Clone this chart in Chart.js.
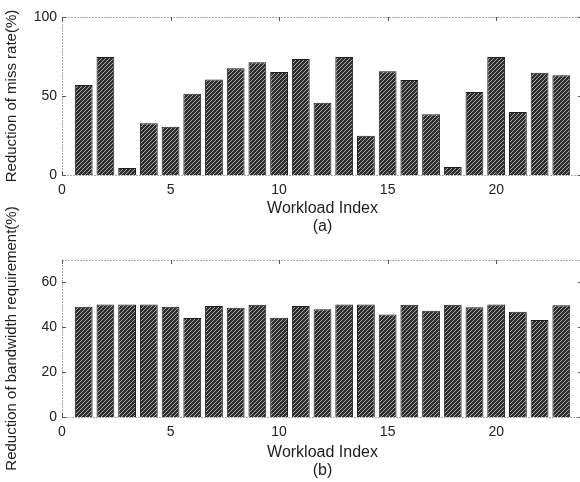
<!DOCTYPE html>
<html>
<head>
<meta charset="utf-8">
<script src="https://cdn.jsdelivr.net/npm/chart.js@4/dist/chart.umd.min.js"></script>
<style>
  html, body { margin: 0; padding: 0; background: #fff; overflow: hidden; }
  #wrap { position: relative; width: 580px; height: 482px; overflow: hidden; }
  canvas { position: absolute; left: 0; }
  #chart-a { top: 0; }
  #chart-b { top: 190px; }
</style>
</head>
<body>
<div id="wrap">
  <canvas id="chart-a" width="590" height="240"></canvas>
  <canvas id="chart-b" width="590" height="292"></canvas>
</div>
<script>
const workload = [1, 2, 3, 4, 5, 6, 7, 8, 9, 10, 11, 12, 13, 14, 15, 16, 17, 18, 19, 20, 21, 22, 23];

// (a) reduction of miss rate, %
const miss_rate = [57, 74.7, 4.4, 32.7, 30.6, 51.5, 60.5, 67.5, 71.3, 65.2, 73.4, 45.8,
  74.7, 24.9, 65.6, 60.1, 38.4, 5, 52.5, 74.7, 39.9, 64.7, 63.1];

// (b) reduction of bandwidth requirement, %
const bandwidth = [49.2, 50.2, 50.2, 50.2, 49.2, 44.1, 49.5, 48.7, 50.1, 44.2, 49.5, 48,
  50.2, 50.2, 45.7, 50.1, 47.4, 50, 48.9, 50.2, 46.9, 43.2, 49.8];

const x_ticks_step = 5;
const text_color = '#222';

Chart.defaults.font.family = "'Liberation Sans', Arial, sans-serif";
Chart.defaults.color = text_color;

// diagonal hatch fill like the printed figure
function hatch(ctx) {
  const c = document.createElement('canvas');
  c.width = 4; c.height = 4;
  const g = c.getContext('2d');
  g.fillStyle = '#2e2e2e';
  g.fillRect(0, 0, 4, 4);
  g.strokeStyle = '#a8a8a8';
  g.lineWidth = 1;
  g.beginPath();
  g.moveTo(0, 4); g.lineTo(4, 0);
  g.moveTo(-1, 1); g.lineTo(1, -1);
  g.moveTo(3, 5); g.lineTo(5, 3);
  g.stroke();
  return ctx.createPattern(c, 'repeat');
}

// dotted box + small inward ticks (matlab style)
const box_plugin = {
  id: 'box',
  afterDatasetsDraw(chart) {
    const { ctx, chartArea: a, scales: { x, y } } = chart;
    ctx.save();
    ctx.strokeStyle = '#555';
    ctx.lineWidth = 1;
    ctx.setLineDash([1, 2]);
    ctx.strokeRect(Math.round(a.left) + .5, Math.round(a.top) + .5, Math.round(a.right - a.left), Math.round(a.bottom - a.top));
    ctx.setLineDash([]);
    ctx.beginPath();
    x.ticks.forEach(t => {
      const px = Math.round(x.getPixelForValue(t.value)) + .5;
      ctx.moveTo(px, a.bottom); ctx.lineTo(px, a.bottom - 4);
      ctx.moveTo(px, a.top); ctx.lineTo(px, a.top + 4);
    });
    y.ticks.forEach(t => {
      const py = Math.round(y.getPixelForValue(t.value)) + .5;
      ctx.moveTo(a.left, py); ctx.lineTo(a.left + 4, py);
      ctx.moveTo(a.right, py); ctx.lineTo(a.right - 5, py);
    });
    ctx.stroke();
    ctx.restore();
  }
};

function make_chart(id, values, y_max, y_step, y_title, x_title, pad_top, title_pad) {
  const canvas = document.getElementById(id);
  const ctx = canvas.getContext('2d');
  return new Chart(ctx, {
    type: 'bar',
    data: {
      datasets: [{
        data: workload.map((w, i) => ({ x: w, y: values[i] })),
        backgroundColor: hatch(ctx),
        borderColor: '#1e1e1e',
        borderWidth: 1,
        barPercentage: 0.82,
        categoryPercentage: 1
      }]
    },
    options: {
      responsive: false,
      animation: false,
      devicePixelRatio: 1,
      layout: { padding: { top: pad_top, right: 7, left: 0, bottom: 0 } },
      plugins: { legend: { display: false }, tooltip: { enabled: false } },
      scales: {
        x: {
          type: 'linear',
          min: 0,
          max: 24,
          offset: false,
          grid: { display: false, drawTicks: false },
          border: { display: false },
          ticks: { stepSize: x_ticks_step, includeBounds: false, padding: 7, font: { size: 14 } },
          title: { display: true, text: x_title, font: { size: 16, lineHeight: 1.1 }, padding: { top: 0, bottom: title_pad } },
          afterFit: s => { s.height = 65; }
        },
        y: {
          min: 0,
          max: y_max,
          grid: { display: false, drawTicks: false },
          border: { display: false },
          ticks: { stepSize: y_step, includeBounds: false, padding: 5, font: { size: 14 } },
          title: { display: true, text: y_title, font: { size: 15, lineHeight: 1.15 }, padding: { top: 3, bottom: 0 } },
          afterFit: s => { s.width = 62; }
        }
      }
    },
    plugins: [box_plugin]
  });
}

make_chart('chart-a', miss_rate, 100, 50, 'Reduction of miss rate(%)', ['Workload Index', '(a)'], 17, 5);
make_chart('chart-b', bandwidth, 70, 20, 'Reduction of bandwidth requirement(%)', ['Workload Index', '(b)'], 70, 3);
</script>
</body>
</html>
